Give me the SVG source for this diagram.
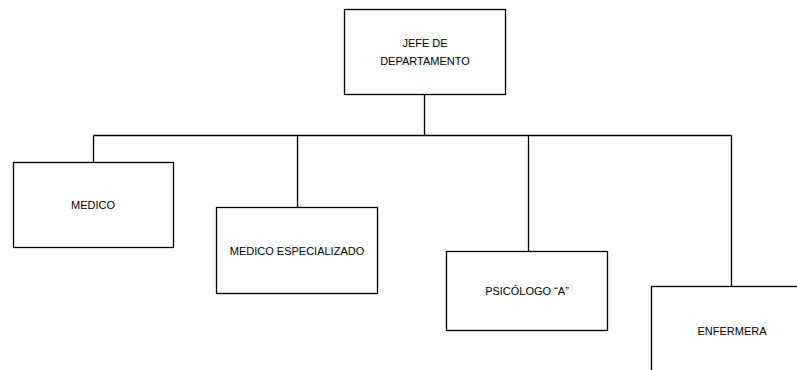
<svg xmlns="http://www.w3.org/2000/svg" width="797" height="370" viewBox="0 0 797 370">
<style>
.box{fill:#fff;stroke:#000;stroke-width:1.3}
.lbl{font-family:"Liberation Sans",Arial,sans-serif;font-size:11px;fill:#000;text-anchor:middle}
.con{fill:none;stroke:#000;stroke-width:1.3}
</style>
<rect width="797" height="370" fill="#fff"/>
<g id="connectors">
<path class="con" d="M424.5 94V135.5M93.5 135.5H731.5M93.5 135.5V162M297.5 135.5V207M528.5 135.5V251M731.5 135.5V286"/>
</g>
<g id="jefe">
<rect class="box" x="344.5" y="9.5" width="161" height="85"/>
<text class="lbl" x="425" y="47">JEFE DE</text>
<text class="lbl" x="425" y="65">DEPARTAMENTO</text>
</g>
<g id="medico">
<rect class="box" x="13.5" y="162.5" width="160" height="85"/>
<text class="lbl" x="93" y="209">MEDICO</text>
</g>
<g id="medico-especializado">
<rect class="box" x="216.5" y="207.5" width="161" height="86"/>
<text class="lbl" x="297" y="255">MEDICO ESPECIALIZADO</text>
</g>
<g id="psicologo">
<rect class="box" x="446.5" y="251.5" width="161" height="79"/>
<text class="lbl" x="527" y="295">PSICÓLOGO “A”</text>
</g>
<g id="enfermera">
<rect class="box" x="651.5" y="286.5" width="160" height="100"/>
<text class="lbl" x="732" y="335">ENFERMERA</text>
</g>
</svg>
